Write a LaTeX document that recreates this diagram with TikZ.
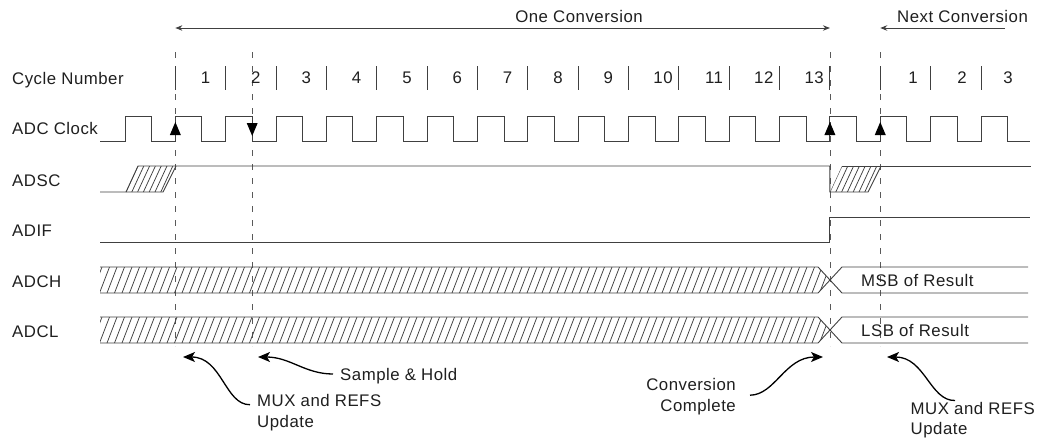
\documentclass[tikz,border=0pt]{standalone}
\usepackage{fontspec}
\setmainfont{Liberation Sans}[LetterSpace=3]
\usetikzlibrary{arrows.meta}
\begin{document}
\begin{tikzpicture}[x=1pt,y=-1pt,
  font=\fontsize{16.8}{21}\selectfont,
  sig/.style={line width=0.9pt, draw=black!75, line join=miter},
  dashln/.style={draw=black!65, line width=0.8pt, dash pattern=on 6pt off 8pt},
  tickln/.style={draw=black!75, line width=0.9pt},
  hatchln/.style={line width=0.75pt, draw=black!75},
  lbl/.style={inner sep=0pt, text=black!88},
  span/.style={line width=0.9pt, draw=black!75},
  spantip/.style={-{Stealth[length=7pt,width=5.5pt]}},
  annot/.style={line width=1.3pt, draw=black, -{Stealth[length=12pt,width=10pt,inset=3pt]}},
  edgetri/.style={fill=black}
]
\useasboundingbox (0,0) rectangle (1051,439);

% ---------- signal labels ----------
\node[lbl,anchor=base west] (cyclbl) at (12,84) {Cycle Number};
\node[lbl,anchor=base west] (clklbl) at (12,134.5) {ADC Clock};
\node[lbl,anchor=base west] (adsclbl) at (12,186) {ADSC};
\node[lbl,anchor=base west] (adiflbl) at (12,236) {ADIF};
\node[lbl,anchor=base west] (adchlbl) at (12,287) {ADCH};
\node[lbl,anchor=base west] (adcllbl) at (12,337) {ADCL};

% ---------- top spans ----------
\node[lbl,anchor=base] (onec) at (579,22.5) {One Conversion};
\node[lbl,anchor=base] (nextc) at (962.5,22) {Next Conversion};
\coordinate (oc1) at (175.35,28);
\coordinate (oc2) at (829.9,28);
\coordinate (nc1) at (880.25,28);
\coordinate (nc2) at (1005,28);
\draw[span,{Stealth[length=7pt,width=5.5pt]}-{Stealth[length=7pt,width=5.5pt]}] (oc1) -- (oc2);
\draw[span,spantip] (nc2) -- (nc1);

% ---------- dashed markers ----------
\foreach \x in {175.35,252.2,829.9,880.25}
  \draw[dashln] (\x,52) -- (\x,346);

% ---------- cycle ticks & numbers ----------
\foreach \k in {1,...,17}
  \draw[tickln] ({125+50.35*\k},66) -- ({125+50.35*\k},90);
\foreach \k in {1,...,9}
  \node[lbl,anchor=base] (cyc\k) at ({155.2+50.35*\k},83) {\k};
\foreach \k in {10,...,13}
  \node[lbl,anchor=base east] (cyc\k) at ({119+50.35*(\k+1)},83) {\k};
\node[lbl,anchor=base] (nxt1) at (913,83) {1};
\node[lbl,anchor=base] (nxt2) at (962,83) {2};
\node[lbl,anchor=base] (nxt3) at (1008,83) {3};

% ---------- ADC clock ----------
\draw[sig] (100,141)
  \foreach \k in {0,...,17}{
    -- ({125+50.35*\k},141) -- ({125+50.35*\k},116)
    -- ({151.5+50.35*\k},116) -- ({151.5+50.35*\k},141) }
  -- (1030,141);
% edge markers
\fill[edgetri] (175.35,122) -- (169.85,135) -- (180.85,135) -- cycle;
\fill[edgetri] (252.2,136) -- (246.7,123) -- (257.7,123) -- cycle;
\fill[edgetri] (829.9,122) -- (824.4,135) -- (835.4,135) -- cycle;
\fill[edgetri] (880.25,122) -- (874.75,135) -- (885.75,135) -- cycle;

% ---------- ADSC ----------
\begin{scope}
  \clip (126,192) -- (163,192) -- (176,166) -- (138,166) -- cycle;
  \foreach \i in {0,...,7}
    \draw[hatchln] ({126+5.8*\i},192) -- ({138+5.8*\i},166);
\end{scope}
\begin{scope}
  \clip (830,192) -- (868,192) -- (881,166) -- (842,166) -- cycle;
  \foreach \i in {0,...,7}
    \draw[hatchln] ({830+5.8*\i},192) -- ({842+5.8*\i},166);
\end{scope}
\draw[sig] (100,192) -- (163,192) -- (176,166);
\draw[sig] (126,192) -- (138,166) -- (829.9,166) -- (829.9,192) -- (868,192) -- (881,166);
\draw[sig] (842,166) -- (1031,166);

% ---------- ADIF ----------
\draw[sig] (100,242) -- (829.9,242) -- (829.9,217) -- (1030,217);

% ---------- ADCH / ADCL buses ----------
\foreach \yt/\yb in {267/293,317/343}{
  \begin{scope}
    \clip (100,\yt) -- (818,\yt) -- (830,{(\yt+\yb)/2}) -- (818,\yb) -- (100,\yb) -- cycle;
    \foreach \i in {0,...,98}
      \draw[hatchln] ({92+7.5*\i},\yb) -- ({102+7.5*\i},\yt);
  \end{scope}
  \draw[sig] (100,\yt) -- (818,\yt) -- (842,\yb) -- (1028,\yb);
  \draw[sig] (100,\yb) -- (818,\yb) -- (842,\yt) -- (1028,\yt);
}
\node[lbl,anchor=base west] (msb) at (861,286) {MSB of Result};
\node[lbl,anchor=base west] (lsb) at (861,336.5) {LSB of Result};

% ---------- annotations ----------
\node[lbl,anchor=north west,align=left] (muxl) at (257,394.2) {MUX and REFS\\Update};
\node[lbl,anchor=base west] (sh) at (340,380) {Sample \& Hold};
\node[lbl,anchor=north east,align=right] (cc) at (736,378.2) {Conversion\\Complete};
\node[lbl,anchor=north west,align=left,font=\fontsize{16.8}{19.5}\selectfont] (muxr) at (910.5,402.5) {MUX and REFS\\Update};

\coordinate (tipA) at (183,357);
\coordinate (tipB) at (258,357);
\coordinate (tipC) at (823,357);
\coordinate (tipD) at (887,357);

\draw[annot] ([shift={(-7,10.5)}]muxl.north west) .. controls (225,405) and (222,357) .. (tipA);
\draw[annot] ([shift={(-7,-6)}]sh.base west) .. controls (305,374) and (290,357) .. (tipB);
\draw[annot] ([shift={(14,17)}]cc.north east) .. controls (775,395) and (785,357) .. (tipC);
\draw[annot] ([shift={(44.5,-2)}]muxr.north west) .. controls (930,401) and (925,357) .. (tipD);
\end{tikzpicture}
\end{document}
